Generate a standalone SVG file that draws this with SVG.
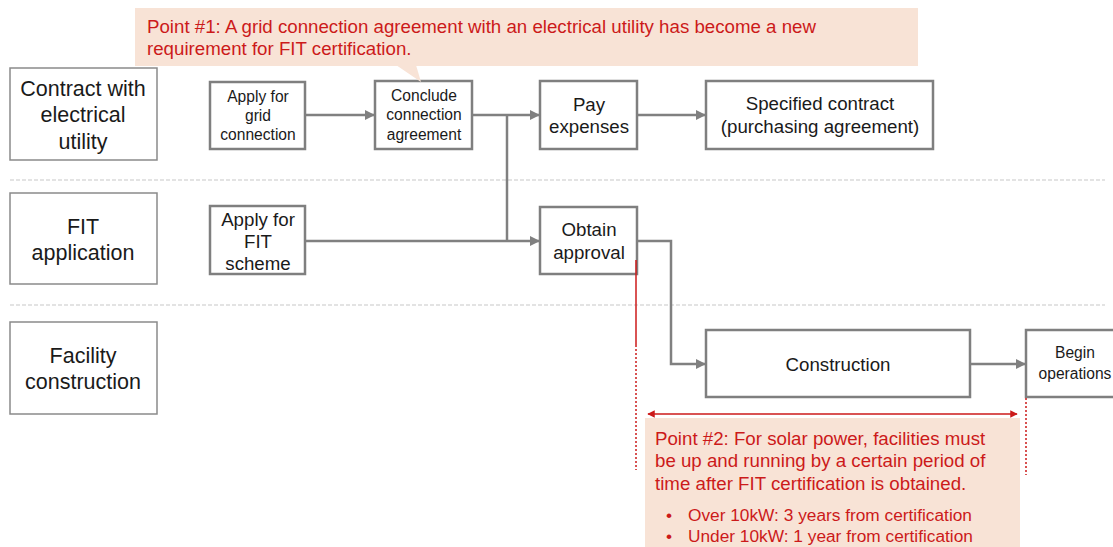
<svg xmlns="http://www.w3.org/2000/svg" width="1113" height="547" viewBox="0 0 1113 547">
  <style>
    text { font-family: "Liberation Sans", Arial, sans-serif; fill: #1a1a1a; text-anchor: middle; }
    .lane rect { fill: #fff; stroke: #8a8a8a; stroke-width: 1.5; }
    .lane text { font-size: 21.5px; }
    .box rect { fill: #fff; stroke: #7f7f7f; stroke-width: 2.5; }
    .box text { font-size: 18.7px; }
    .box text.sm { font-size: 15.6px; }
    .sep { stroke: #c8c8c8; stroke-width: 1.2; stroke-dasharray: 4 2; }
    .flow { fill: none; stroke: #808080; stroke-width: 2.5; }
    .note { fill: #f8e3d6; }
    .note text { fill: #cc1a1a; text-anchor: start; font-size: 18.7px; }
    .note text.li { font-size: 17.3px; }
    .red { stroke: #cc1a1a; stroke-width: 1.5; fill: none; }
    .red-dot { stroke: #cc1a1a; stroke-width: 1.5; stroke-dasharray: 2 2; fill: none; }
  </style>
  <defs>
    <marker id="arr" viewBox="0 0 10 10" refX="9" refY="5" markerWidth="4" markerHeight="4" orient="auto">
      <path d="M0,0 L10,5 L0,10 z" fill="#808080"/>
    </marker>
    <marker id="rarr" viewBox="0 0 10 10" refX="9" refY="5" markerWidth="6" markerHeight="5" orient="auto-start-reverse">
      <path d="M0,0 L10,5 L0,10 z" fill="#cc1a1a"/>
    </marker>
  </defs>

  <rect width="1113" height="547" fill="#fff"/>

  <!-- lane separators -->
  <line class="sep" x1="10" y1="180" x2="1105" y2="180"/>
  <line class="sep" x1="10" y1="305" x2="1105" y2="305"/>

  <!-- swimlane headers -->
  <g id="lane-contract" class="lane">
    <rect x="10" y="68" width="147" height="92"/>
    <text x="83" y="96">Contract with</text>
    <text x="83" y="122">electrical</text>
    <text x="83" y="149">utility</text>
  </g>
  <g id="lane-fit" class="lane">
    <rect x="10" y="193" width="147" height="91"/>
    <text x="83" y="234">FIT</text>
    <text x="83" y="260">application</text>
  </g>
  <g id="lane-facility" class="lane">
    <rect x="10" y="322" width="147" height="92"/>
    <text x="83" y="363">Facility</text>
    <text x="83" y="389">construction</text>
  </g>

  <!-- flow connectors -->
  <g id="connectors">
    <line class="flow" x1="305" y1="115" x2="374" y2="115" marker-end="url(#arr)"/>
    <line class="flow" x1="472" y1="115" x2="539" y2="115" marker-end="url(#arr)"/>
    <polyline class="flow" points="507,115 507,241"/>
    <line class="flow" x1="305" y1="241" x2="539" y2="241" marker-end="url(#arr)"/>
    <line class="flow" x1="637" y1="115" x2="705" y2="115" marker-end="url(#arr)"/>
    <polyline class="flow" points="637,241 671,241 671,364 705,364" marker-end="url(#arr)"/>
    <line class="flow" x1="970" y1="364" x2="1025" y2="364" marker-end="url(#arr)"/>
  </g>

  <!-- process steps -->
  <g id="apply-grid" class="box">
    <rect x="210" y="82" width="95" height="67"/>
    <text class="sm" x="258" y="102">Apply for</text>
    <text class="sm" x="258" y="121">grid</text>
    <text class="sm" x="258" y="140">connection</text>
  </g>
  <g id="conclude" class="box">
    <rect x="375" y="81" width="97" height="68"/>
    <text class="sm" x="424" y="101">Conclude</text>
    <text class="sm" x="424" y="120">connection</text>
    <text class="sm" x="424" y="140">agreement</text>
  </g>
  <g id="pay" class="box">
    <rect x="540" y="81" width="97" height="68"/>
    <text x="589" y="111">Pay</text>
    <text x="589" y="133">expenses</text>
  </g>
  <g id="specified" class="box">
    <rect x="706" y="81" width="227" height="68"/>
    <text x="820" y="110">Specified contract</text>
    <text x="820" y="133">(purchasing agreement)</text>
  </g>
  <g id="apply-fit" class="box">
    <rect x="210" y="206" width="95" height="68"/>
    <text x="258" y="226">Apply for</text>
    <text x="258" y="248">FIT</text>
    <text x="258" y="270">scheme</text>
  </g>
  <g id="approval" class="box">
    <rect x="540" y="207" width="97" height="67"/>
    <text x="589" y="236">Obtain</text>
    <text x="589" y="259">approval</text>
  </g>
  <g id="construction" class="box">
    <rect x="706" y="330" width="264" height="67"/>
    <text x="838" y="371">Construction</text>
  </g>
  <g id="begin" class="box">
    <rect x="1026" y="330" width="100" height="67"/>
    <text class="sm" x="1075" y="358">Begin</text>
    <text class="sm" x="1075" y="379">operations</text>
  </g>

  <!-- callout: point 1 -->
  <g id="point1" class="note">
    <rect x="135" y="8" width="783" height="58"/>
    <polygon points="396,65 416,65 421,82"/>
    <text x="147" y="33">Point #1: A grid connection agreement with an electrical utility has become a new</text>
    <text x="147" y="55">requirement for FIT certification.</text>
  </g>

  <!-- period markers -->
  <line class="red" x1="636" y1="260" x2="636" y2="345"/>
  <line class="red-dot" x1="636" y1="345" x2="636" y2="470"/>
  <line class="red-dot" x1="1026" y1="398" x2="1026" y2="475"/>
  <line class="red" x1="648" y1="414" x2="1017" y2="414" marker-start="url(#rarr)" marker-end="url(#rarr)"/>

  <!-- callout: point 2 -->
  <g id="point2" class="note">
    <rect x="645" y="418" width="375" height="129"/>
    <text x="655" y="445">Point #2: For solar power, facilities must</text>
    <text x="655" y="467">be up and running by a certain period of</text>
    <text x="655" y="490">time after FIT certification is obtained.</text>
    <text class="li" x="666" y="521">•</text>
    <text class="li" x="688" y="521">Over 10kW: 3 years from certification</text>
    <text class="li" x="666" y="542">•</text>
    <text class="li" x="688" y="542">Under 10kW: 1 year from certification</text>
  </g>
</svg>
